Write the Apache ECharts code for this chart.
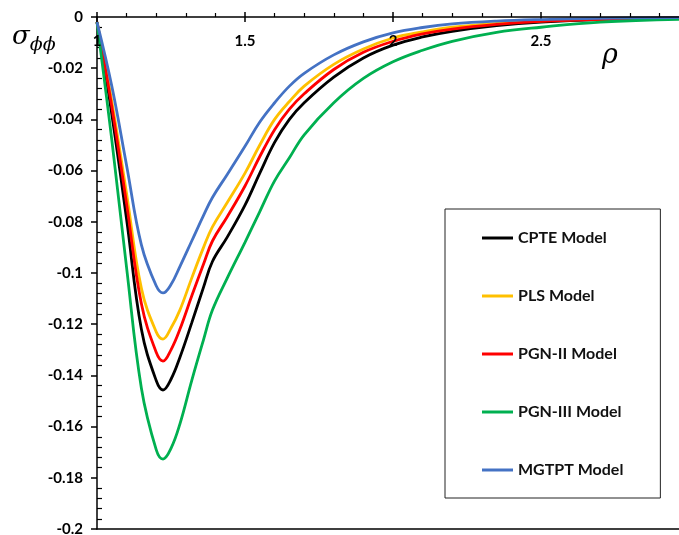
<!DOCTYPE html>
<html>
<head>
<meta charset="utf-8">
</head>
<body style="margin: 0">
<div id="container" style="width: 679px; height: 535px"></div>
<script src="https://cdn.jsdelivr.net/npm/echarts@6/dist/echarts.min.js"></script>
<script>
// rho values (x axis)
const rho = [1, 1.05, 1.1, 1.15, 1.2, 1.223, 1.25, 1.28, 1.32, 1.36, 1.39, 1.44, 1.5, 1.55, 1.6, 1.65, 1.7, 1.8, 1.9, 2.0, 2.1, 2.2, 2.35, 2.5, 2.7, 3.0];

const cpte = [-0.002, -0.038, -0.079, -0.122, -0.142, -0.1457, -0.1415, -0.133, -0.1195, -0.1055, -0.0955, -0.086, -0.0735, -0.061, -0.049, -0.040, -0.0335, -0.0235, -0.016, -0.011, -0.0078, -0.0056, -0.0034, -0.002, -0.001, -0.0004];
const pls = [-0.002, -0.033, -0.069, -0.106, -0.123, -0.1258, -0.1215, -0.1145, -0.102, -0.090, -0.082, -0.0725, -0.061, -0.050, -0.040, -0.033, -0.027, -0.0185, -0.0125, -0.0082, -0.0058, -0.004, -0.0025, -0.0015, -0.0008, -0.0003];
const pgn2 = [-0.002, -0.035, -0.073, -0.112, -0.131, -0.1344, -0.130, -0.122, -0.109, -0.0965, -0.0875, -0.078, -0.066, -0.0545, -0.044, -0.036, -0.030, -0.0205, -0.0138, -0.0095, -0.0066, -0.0047, -0.0029, -0.0017, -0.0009, -0.0003];
const pgn3 = [-0.002, -0.048, -0.098, -0.145, -0.169, -0.1727, -0.1685, -0.159, -0.142, -0.126, -0.1145, -0.102, -0.088, -0.076, -0.064, -0.055, -0.046, -0.0335, -0.024, -0.0175, -0.013, -0.0095, -0.006, -0.004, -0.002, -0.0008];
const mgtpt = [-0.002, -0.027, -0.058, -0.089, -0.105, -0.1078, -0.1045, -0.0975, -0.0875, -0.0775, -0.0705, -0.0615, -0.0505, -0.041, -0.0335, -0.027, -0.022, -0.0148, -0.0097, -0.0062, -0.0041, -0.0027, -0.0016, -0.001, -0.0005, -0.0002];

const names = ['CPTE Model', 'PLS Model', 'PGN-II Model', 'PGN-III Model', 'MGTPT Model'];
const colors = ['#000000', '#FFC000', '#FF0000', '#00B050', '#4472C4'];
const values = [cpte, pls, pgn2, pgn3, mgtpt];

const font = 'Lato, "Open Sans", sans-serif';

var myChart = echarts.init(document.getElementById('container'), null, { renderer: 'canvas' });

const series = values.map((v, i) => ({
    name: names[i],
    type: 'line',
    smooth: 0.4,
    symbol: 'none',
    data: rho.map((x, j) => [x, v[j]]),
    lineStyle: { color: colors[i], width: 2.8 },
    itemStyle: { color: colors[i] }
}));

const option = {
    animation: false,
    backgroundColor: '#fff',
    grid: { left: 97, top: 17, width: 592, height: 512, outerBoundsMode: 'none', containLabel: false },
    legend: {
        orient: 'vertical',
        left: 445,
        top: 209,
        padding: [21, 37, 20, 37],
        icon: 'rect',
        itemWidth: 31,
        itemHeight: 3,
        itemGap: 42,
        borderColor: '#222',
        borderWidth: 1,
        backgroundColor: '#fff',
        data: names,
        textStyle: { fontFamily: font, fontWeight: 'bold', fontSize: 16, color: '#111' }
    },
    graphic: [
        {
            type: 'text', left: 12, top: 24,
            style: {
                text: '{a|σ}{b|ϕϕ}',
                rich: {
                    a: { fontFamily: '"DejaVu Serif", serif', fontStyle: 'italic', fontSize: 26, fill: '#000', verticalAlign: 'top' },
                    b: { fontFamily: '"DejaVu Serif", serif', fontStyle: 'italic', fontSize: 19, fill: '#000', padding: [12, 0, 0, 0] }
                }
            }
        },
        {
            type: 'text', left: 602, top: 42,
            style: { text: 'ρ', fontFamily: '"DejaVu Serif", serif', fontStyle: 'italic', fontSize: 27, fill: '#000' }
        }
    ],
    xAxis: [
        {
            type: 'value', position: 'top', min: 1, max: 3, interval: 0.5, z: 5,
            axisLine: { lineStyle: { color: '#000', width: 1.5 } },
            axisTick: { length: 5, lineStyle: { color: '#000', width: 1.5 } },
            minorTick: { show: true, splitNumber: 5, length: 4, lineStyle: { color: '#000', width: 1.2 } },
            axisLabel: { inside: true, margin: 17, fontFamily: font, fontWeight: 'bold', fontSize: 15, color: '#000' },
            splitLine: { show: false }
        },
        {
            type: 'value', position: 'top', min: 1, max: 3, interval: 0.5,
            axisLine: { show: false },
            axisTick: { inside: true, length: 5, lineStyle: { color: '#000', width: 1.5 } },
            axisLabel: { show: false },
            splitLine: { show: false }
        },
        {
            type: 'value', position: 'bottom', min: 1, max: 3,
            axisLine: { onZero: false, lineStyle: { color: '#000', width: 1.5 } },
            axisTick: { show: false },
            axisLabel: { show: false },
            splitLine: { show: false }
        }
    ],
    yAxis: [
        {
            type: 'value', min: -0.2, max: 0, interval: 0.02,
            axisLine: { show: true, onZero: false, lineStyle: { color: '#000', width: 1.5 } },
            axisTick: { show: true, length: 6, lineStyle: { color: '#000', width: 1.5 } },
            axisLabel: { margin: 14, fontFamily: font, fontWeight: 'bold', fontSize: 15, color: '#000' },
            splitLine: { show: false }
        },
        {
            type: 'value', min: -0.2, max: 0, interval: 0.02, position: 'left',
            axisLine: { show: false },
            axisTick: { show: false, inside: true },
            minorTick: { show: true, splitNumber: 5, length: 5, lineStyle: { color: '#000', width: 1.2 } },
            axisLabel: { show: false },
            splitLine: { show: false }
        }
    ],
    series: series
};

myChart.setOption(option);
</script>
</body>
</html>
